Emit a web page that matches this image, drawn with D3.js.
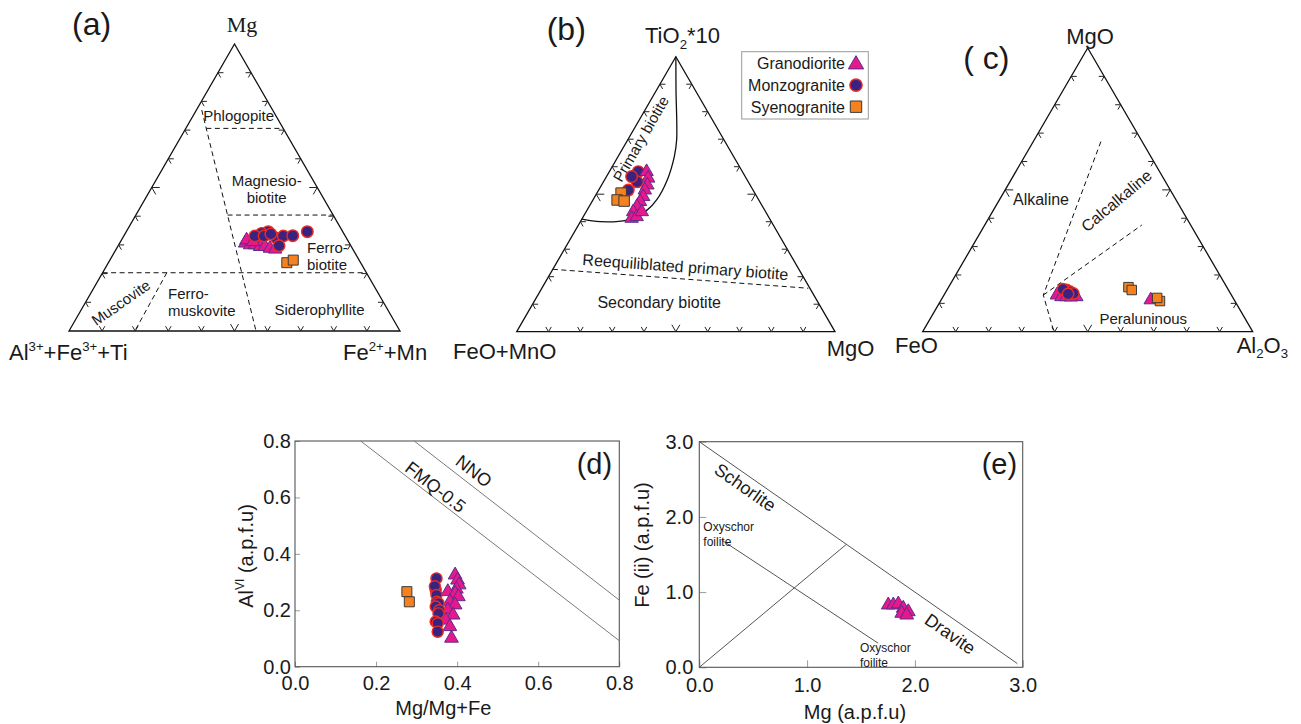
<!DOCTYPE html>
<html>
<head>
<meta charset="utf-8">
<script src="https://cdn.jsdelivr.net/npm/d3@7"></script>
<style>
  body { margin: 0; background: #fff; }
  svg { display: block; }
  text { font-family: "Liberation Sans", Arial, sans-serif; fill: #1a1a1a; }
</style>
</head>
<body>
<svg id="chart" width="1301" height="724"></svg>
<script>
// ---------- Ternary data: [top, left, right] fractions ----------
// (a) Mg – (Al3+ + Fe3+ + Ti) – (Fe2+ + Mn)
const aMonzo = [[0.346,0.225,0.429],[0.340,0.248,0.412],[0.331,0.273,0.396],[0.323,0.211,0.466],[0.331,0.187,0.482],[0.332,0.158,0.510],[0.346,0.107,0.547],[0.297,0.217,0.486],[0.331,0.245,0.424],[0.338,0.221,0.441]];
const aGrano = [[0.306,0.315,0.379],[0.300,0.303,0.397],[0.300,0.288,0.412],[0.294,0.276,0.430],[0.294,0.261,0.445],[0.288,0.249,0.463],[0.285,0.235,0.480],[0.317,0.305,0.378],[0.311,0.288,0.401]];
const aSyeno = [[0.238,0.223,0.539],[0.247,0.199,0.554]];
const aFieldLines = [
  [[0.706,0.232,0.062],[0.706,0,0.294]],
  [[0.77,0.214,0.016],[0,0.435,0.565]],
  [[0.404,0.319,0.277],[0.404,0,0.596]],
  [[0.203,0.797,0],[0.203,0,0.797]],
  [[0.203,0.603,0.194],[0,0.801,0.199]]
];

// (b) TiO2*10 – (FeO+MnO) – MgO
const bMonzo = [[0.582,0.327,0.091],[0.545,0.349,0.106],[0.564,0.357,0.079],[0.515,0.392,0.093]];
const bGrano = [[0.582,0.301,0.117],[0.558,0.308,0.134],[0.533,0.323,0.144],[0.515,0.340,0.145],[0.491,0.357,0.152],[0.473,0.376,0.151],[0.455,0.395,0.150],[0.436,0.416,0.148],[0.412,0.433,0.155],[0.418,0.414,0.168],[0.436,0.389,0.175]];
const bSyeno = [[0.504,0.420,0.076],[0.479,0.445,0.076],[0.475,0.425,0.100]];
const bPrimaryCurve = [[1,0,0],[0.879,0.06,0.061],[0.697,0.149,0.154],[0.636,0.187,0.177],[0.552,0.251,0.197],[0.479,0.321,0.2],[0.443,0.368,0.189],[0.406,0.451,0.143],[0.4,0.538,0.062],[0.409,0.591,0]];
const bSecondaryLine = [[0.227,0.773,0],[0.158,0.005,0.837]];

// (c) MgO – FeO – Al2O3
const cMonzo = [[0.147,0.490,0.363],[0.141,0.483,0.376],[0.135,0.476,0.389],[0.150,0.500,0.350],[0.133,0.493,0.374]];
const cGrano = [[0.129,0.529,0.342],[0.123,0.518,0.359],[0.123,0.503,0.374],[0.123,0.473,0.404],[0.122,0.490,0.388],[0.112,0.253,0.635]];
const cSyeno = [[0.157,0.298,0.545],[0.147,0.293,0.560],[0.108,0.227,0.665],[0.119,0.230,0.651]];
const cFieldLines = [
  [[0.670,0.125,0.205],[0.129,0.570,0.301],[0.006,0.601,0.393]],
  [[0.129,0.570,0.301],[0.376,0.148,0.476]]
];

// ---------- XY data ----------
// (d) Mg/(Mg+Fe) vs AlVI
const dMonzo = [[0.349,0.313],[0.347,0.272],[0.345,0.285],[0.349,0.254],[0.350,0.230],[0.354,0.225],[0.347,0.213],[0.356,0.200],[0.354,0.189],[0.347,0.160],[0.352,0.154],[0.352,0.124]];
const dGrano = [[0.395,0.325],[0.401,0.307],[0.405,0.290],[0.398,0.275],[0.377,0.266],[0.395,0.260],[0.403,0.248],[0.382,0.230],[0.395,0.219],[0.377,0.201],[0.390,0.183],[0.372,0.165],[0.382,0.142],[0.386,0.101]];
const dSyeno = [[0.276,0.266],[0.282,0.230]];
const dNNO = [[0.294,0.8],[0.8,0.236]];
const dFMQ = [[0.162,0.8],[0.8,0.092]];
const dTicks = [0, 0.2, 0.4, 0.6, 0.8];

// (e) Mg vs Fe(ii)
const eGrano = [[1.753,0.829],[1.800,0.829],[1.846,0.842],[1.892,0.785],[1.939,0.739],[1.878,0.718],[1.924,0.695]];
const eSchorlDravite = [[0,3],[2.95,0.05]];
const eOxyLine = [[0.21,1.69],[1.66,0.32]];
const eDiagonal = [[0,0],[1.36,1.63]];
const eTicks = [0, 1, 2, 3];

const legendLabels = ["Granodiorite", "Monzogranite", "Syenogranite"];

// ---------- styles ----------
const STYLE = {
  tri: { shape: d3.symbolTriangle, size: 78, fill: "#e5198b", stroke: "#5b2d8e", sw: 1 },
  circ: { shape: d3.symbolCircle, size: 92, fill: "#3a2380", stroke: "#ee2b24", sw: 1.4 },
  sq: { shape: d3.symbolSquare, size: 100, fill: "#f5821f", stroke: "#3b3b3b", sw: 1 }
};

const svg = d3.select("#chart");

function drawMarkers(pts, key, pos, sizeScale) {
  const st = STYLE[key];
  const sym = d3.symbol().type(st.shape).size(st.size * (sizeScale || 1));
  svg.append("g").selectAll("path").data(pts).join("path")
    .attr("d", sym)
    .attr("transform", d => { const p = pos(d); return `translate(${p[0]},${p[1]})`; })
    .attr("fill", st.fill).attr("stroke", st.stroke).attr("stroke-width", st.sw);
}

function richText(x, y, parts, size, opts) {
  opts = opts || {};
  const t = svg.append("text").attr("x", x).attr("y", y)
    .attr("font-size", size).attr("text-anchor", opts.anchor || "start");
  if (opts.family) t.style("font-family", opts.family);
  if (opts.rotate !== undefined) t.attr("transform", `rotate(${opts.rotate},${x},${y})`);
  let shift = 0;
  parts.forEach(p => {
    const target = p.sup ? -0.42 * size : p.sub ? 0.25 * size : 0;
    t.append("tspan").attr("dy", target - shift)
      .attr("font-size", (p.sup || p.sub) ? size * 0.6 : size).text(p.t);
    shift = target;
  });
  return t;
}

function label(x, y, str, size, opts) {
  return richText(x, y, [{ t: str }], size, opts);
}

// ---------- ternary panel ----------
function ternaryPanel(cfg) {
  const xs = d3.scaleLinear().domain([0, 1]).range([cfg.left, cfg.right]);
  const ys = d3.scaleLinear().domain([0, 1]).range([cfg.base, cfg.apex]);
  const pos = d => { const s = d[0] + d[1] + d[2]; const t = d[0] / s, r = d[2] / s; return [xs(r + t / 2), ys(t)]; };

  const L = pos([0, 1, 0]), R = pos([0, 0, 1]), T = pos([1, 0, 0]);
  svg.append("path").attr("d", d3.line()([L, R, T]) + "Z")
    .attr("fill", "none").attr("stroke", "#111").attr("stroke-width", 1.3);

  // chevron ticks on each edge, every 10 %
  const centroid = [(L[0] + R[0] + T[0]) / 3, (L[1] + R[1] + T[1]) / 3];
  const edges = [[L, R], [L, T], [R, T]];
  const tickG = svg.append("g").attr("fill", "none").attr("stroke", "#222").attr("stroke-width", 1);
  edges.forEach(([A, B]) => {
    const dx = B[0] - A[0], dy = B[1] - A[1], len = Math.hypot(dx, dy);
    let nx = -dy / len, ny = dx / len;
    const mx = (A[0] + B[0]) / 2, my = (A[1] + B[1]) / 2;
    if ((centroid[0] - mx) * nx + (centroid[1] - my) * ny < 0) { nx = -nx; ny = -ny; }
    d3.range(1, 10).forEach(i => {
      const f = i / 10, px = A[0] + dx * f, py = A[1] + dy * f;
      const arm = i === 5 ? 8 : 5.5;
      const a = Math.PI / 6, c = Math.cos(a), s = Math.sin(a);
      const p1 = [px + arm * (nx * c - ny * s), py + arm * (nx * s + ny * c)];
      const p2 = [px + arm * (nx * c + ny * s), py + arm * (-nx * s + ny * c)];
      tickG.append("path").attr("d", d3.line()([p1, [px, py], p2]));
    });
  });
  return pos;
}

function fieldLine(pos, pts, dashed, curve) {
  svg.append("path")
    .attr("d", d3.line().curve(curve || d3.curveLinear)(pts.map(pos)))
    .attr("fill", "none").attr("stroke", "#111")
    .attr("stroke-width", dashed ? 1 : 1.3)
    .attr("stroke-dasharray", dashed ? "5,3.5" : null);
}

// ===== (a) =====
const posA = ternaryPanel({ left: 69, right: 400, base: 331, apex: 44 });
aFieldLines.forEach(l => fieldLine(posA, l, true));
label(72, 35, "(a)", 32);
label(242, 32, "Mg", 22, { anchor: "middle", family: "'Liberation Serif', 'Times New Roman', serif" });
richText(9, 360, [{ t: "Al" }, { t: "3+", sup: true }, { t: "+Fe" }, { t: "3+", sup: true }, { t: "+Ti" }], 22);
richText(343, 360, [{ t: "Fe" }, { t: "2+", sup: true }, { t: "+Mn" }], 22);
label(238.7, 121, "Phlogopite", 15, { anchor: "middle" });
label(266.7, 186, "Magnesio-", 15, { anchor: "middle" });
label(266.7, 203, "biotite", 15, { anchor: "middle" });
label(307, 253, "Ferro-", 15);
label(307, 269.5, "biotite", 15);
label(168, 299, "Ferro-", 15);
label(168, 316, "muskovite", 15);
label(319.5, 315, "Siderophyllite", 15, { anchor: "middle" });
label(124, 307, "Muscovite", 15, { anchor: "middle", rotate: -35 });
drawMarkers(aGrano, "tri", posA);
drawMarkers(aMonzo, "circ", posA, 1.15);
drawMarkers(aSyeno, "sq", posA);

// ===== (b) =====
const posB = ternaryPanel({ left: 516.7, right: 835, base: 331.7, apex: 56.7 });
fieldLine(posB, bPrimaryCurve, false, d3.curveCatmullRom);
fieldLine(posB, bSecondaryLine, true);
label(546.7, 40, "(b)", 32);
richText(645, 43, [{ t: "TiO" }, { t: "2", sub: true }, { t: "*10" }], 22);
label(453, 359, "FeO+MnO", 22);
label(826.7, 356, "MgO", 22);
label(645.5, 141.5, "Primary biotite", 15, { anchor: "middle", rotate: -60 });
label(685, 272.5, "Reequiliblated primary biotite", 16, { anchor: "middle", rotate: 4.2 });
label(659.2, 307.5, "Secondary biotite", 16, { anchor: "middle" });
drawMarkers(bMonzo, "circ", posB, 1.15);
drawMarkers(bGrano, "tri", posB);
drawMarkers(bSyeno, "sq", posB, 1.1);

// legend
svg.append("rect").attr("x", 741.7).attr("y", 51.7).attr("width", 126.6).attr("height", 67.3)
  .attr("fill", "#fff").attr("stroke", "#9a9a9a").attr("stroke-width", 1);
const legendKeys = ["tri", "circ", "sq"];
const legendY = d3.scalePoint().domain(legendLabels).range([63.5, 106.7]);
legendLabels.forEach((name, i) => {
  const y = legendY(name);
  label(845, y + 5.8, name, 16, { anchor: "end" });
  const st = STYLE[legendKeys[i]];
  svg.append("path")
    .attr("d", d3.symbol().type(st.shape).size(st.size * 1.3)())
    .attr("transform", `translate(856,${y + (i === 0 ? 1 : 0)})`)
    .attr("fill", st.fill).attr("stroke", st.stroke).attr("stroke-width", st.sw);
});

// ===== (c) =====
const posC = ternaryPanel({ left: 922.7, right: 1252.7, base: 331.7, apex: 48 });
cFieldLines.forEach(l => fieldLine(posC, l, true));
label(963.3, 69, "( c)", 32);
label(1090, 44.3, "MgO", 22, { anchor: "middle" });
label(895, 352.7, "FeO", 22);
richText(1236.7, 352.7, [{ t: "Al" }, { t: "2", sub: true }, { t: "O" }, { t: "3", sub: true }], 22);
label(1041, 205, "Alkaline", 16, { anchor: "middle" });
label(1120, 205, "Calcalkaline", 16, { anchor: "middle", rotate: -40 });
label(1143.3, 323.5, "Peraluninous", 15, { anchor: "middle" });
drawMarkers(cGrano, "tri", posC);
drawMarkers(cMonzo, "circ", posC, 1.1);
drawMarkers(cSyeno, "sq", posC, 0.9);

// ---------- XY panels ----------
function xyPanel(cfg) {
  const x = d3.scaleLinear().domain(cfg.domain).range([cfg.x0, cfg.x1]);
  const y = d3.scaleLinear().domain(cfg.domain).range([cfg.y0, cfg.y1]);
  const fmt = d3.format(".1f");
  const gx = svg.append("g").attr("transform", `translate(0,${cfg.y0})`)
    .call(d3.axisBottom(x).tickValues(cfg.ticks).tickSize(-cfg.tick).tickPadding(cfg.padX).tickFormat(fmt));
  const gy = svg.append("g").attr("transform", `translate(${cfg.x0},0)`)
    .call(d3.axisLeft(y).tickValues(cfg.ticks).tickSize(-cfg.tick).tickPadding(cfg.padY).tickFormat(fmt));
  [gx, gy].forEach(g => {
    g.select(".domain").remove();
    g.attr("font-size", 20).attr("font-family", "'Liberation Sans', Arial, sans-serif");
    g.selectAll(".tick line").attr("stroke", "#9a9a9a");
    g.selectAll(".tick text").attr("fill", "#1a1a1a");
  });
  svg.append("rect").attr("x", cfg.x0).attr("y", cfg.y1)
    .attr("width", cfg.x1 - cfg.x0).attr("height", cfg.y0 - cfg.y1)
    .attr("fill", "none").attr("stroke", "#555").attr("stroke-width", 1.1);
  return { x, y, pos: d => [x(d[0]), y(d[1])] };
}

function refLine(p, pts, color) {
  svg.append("path").attr("d", d3.line()(pts.map(p.pos)))
    .attr("fill", "none").attr("stroke", color).attr("stroke-width", 1);
}

// ===== (d) =====
const pD = xyPanel({ domain: [0, 0.8], ticks: dTicks, x0: 295, x1: 619.3, y0: 666.7, y1: 441, tick: 5, padX: 9, padY: 4 });
refLine(pD, dNNO, "#7a7a7a");
refLine(pD, dFMQ, "#7a7a7a");
label(470, 476, "NNO", 18, { anchor: "middle", rotate: 37.8 });
label(431.7, 492, "FMQ-0.5", 18, { anchor: "middle", rotate: 37.8 });
label(576.7, 474, "(d)", 29);
label(443.3, 714.5, "Mg/Mg+Fe", 20, { anchor: "middle" });
richText(252.5, 556, [{ t: "Al" }, { t: "VI", sup: true }, { t: " (a.p.f.u)" }], 20, { anchor: "middle", rotate: -90 });
drawMarkers(dGrano, "tri", pD.pos, 1.05);
drawMarkers(dMonzo, "circ", pD.pos, 1.05);
drawMarkers(dSyeno, "sq", pD.pos);

// ===== (e) =====
const pE = xyPanel({ domain: [0, 3], ticks: eTicks, x0: 699.3, x1: 1022.7, y0: 667.3, y1: 441.7, tick: 7, padX: 10.5, padY: 6 });
refLine(pE, eSchorlDravite, "#555");
refLine(pE, eOxyLine, "#555");
refLine(pE, eDiagonal, "#555");
label(741.7, 492.5, "Schorlite", 18, { anchor: "middle", rotate: 35 });
label(946.7, 639, "Dravite", 18, { anchor: "middle", rotate: 35 });
label(703.3, 531, "Oxyschor", 12);
label(703.3, 546, "foilite", 12);
label(860, 651.5, "Oxyschor", 12);
label(860, 667, "foilite", 12);
label(981.7, 474, "(e)", 29);
label(855, 719, "Mg (a.p.f.u)", 20, { anchor: "middle" });
label(649, 545, "Fe (ii) (a.p.f.u)", 20, { anchor: "middle", rotate: -90 });
drawMarkers(eGrano, "tri", pE.pos, 1.05);
</script>
</body>
</html>
